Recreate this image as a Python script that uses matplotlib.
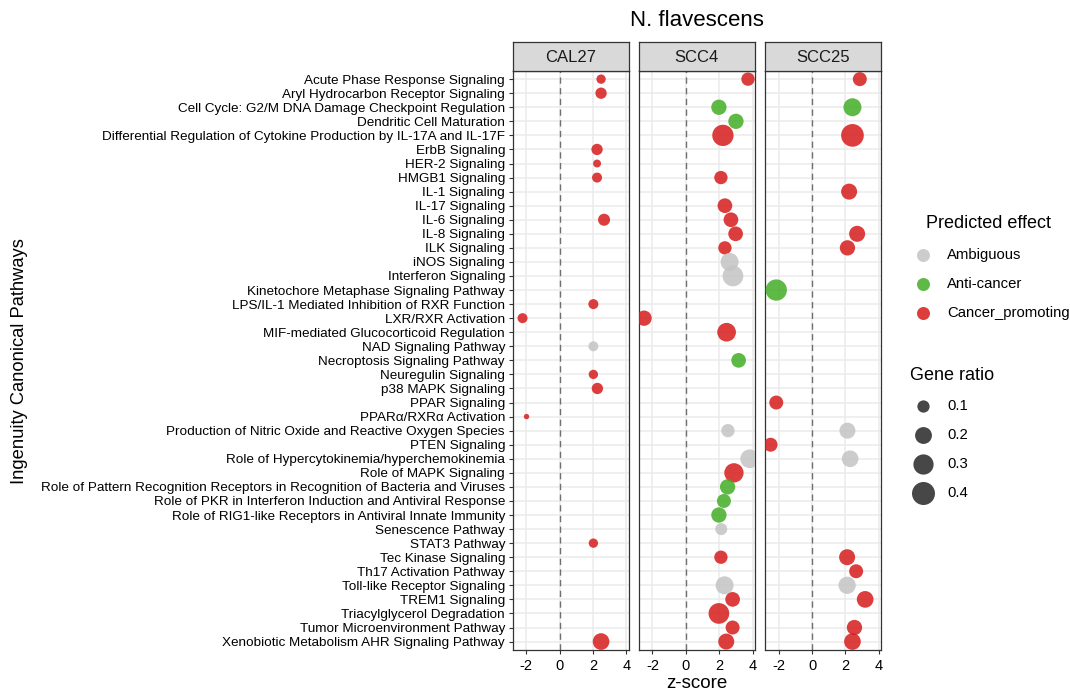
import numpy as np
import matplotlib
matplotlib.use("Agg")
import matplotlib.pyplot as plt

plt.rcParams["font.family"] = ["Liberation Sans", "DejaVu Sans"]
plt.rcParams["axes.unicode_minus"] = False

# ---- data -------------------------------------------------------------
pathways = [
    "Acute Phase Response Signaling",
    "Aryl Hydrocarbon Receptor Signaling",
    "Cell Cycle: G2/M DNA Damage Checkpoint Regulation",
    "Dendritic Cell Maturation",
    "Differential Regulation of Cytokine Production by IL-17A and IL-17F",
    "ErbB Signaling",
    "HER-2 Signaling",
    "HMGB1 Signaling",
    "IL-1 Signaling",
    "IL-17 Signaling",
    "IL-6 Signaling",
    "IL-8 Signaling",
    "ILK Signaling",
    "iNOS Signaling",
    "Interferon Signaling",
    "Kinetochore Metaphase Signaling Pathway",
    "LPS/IL-1 Mediated Inhibition of RXR Function",
    "LXR/RXR Activation",
    "MIF-mediated Glucocorticoid Regulation",
    "NAD Signaling Pathway",
    "Necroptosis Signaling Pathway",
    "Neuregulin Signaling",
    "p38 MAPK Signaling",
    "PPAR Signaling",
    "PPARα/RXRα Activation",
    "Production of Nitric Oxide and Reactive Oxygen Species",
    "PTEN Signaling",
    "Role of Hypercytokinemia/hyperchemokinemia",
    "Role of MAPK Signaling",
    "Role of Pattern Recognition Receptors in Recognition of Bacteria and Viruses",
    "Role of PKR in Interferon Induction and Antiviral Response",
    "Role of RIG1-like Receptors in Antiviral Innate Immunity",
    "Senescence Pathway",
    "STAT3 Pathway",
    "Tec Kinase Signaling",
    "Th17 Activation Pathway",
    "Toll-like Receptor Signaling",
    "TREM1 Signaling",
    "Triacylglycerol Degradation",
    "Tumor Microenvironment Pathway",
    "Xenobiotic Metabolism AHR Signaling Pathway",
]

cell_lines = ["CAL27", "SCC4", "SCC25"]

cal27_pathways = [
    "Acute Phase Response Signaling", "Aryl Hydrocarbon Receptor Signaling",
    "ErbB Signaling", "HER-2 Signaling", "HMGB1 Signaling", "IL-6 Signaling",
    "LPS/IL-1 Mediated Inhibition of RXR Function", "LXR/RXR Activation",
    "NAD Signaling Pathway", "Neuregulin Signaling", "p38 MAPK Signaling",
    "PPARα/RXRα Activation", "STAT3 Pathway",
    "Xenobiotic Metabolism AHR Signaling Pathway",
]
cal27_z = [2.48, 2.48, 2.24, 2.24, 2.24, 2.66, 2.02, -2.22, 2.02, 2.02, 2.26,
           -1.98, 2.02, 2.48]
cal27_ratio = [0.059, 0.085, 0.085, 0.046, 0.067, 0.096, 0.067, 0.067, 0.067,
               0.059, 0.085, 0.032, 0.059, 0.195]
cal27_effect = ["Cancer_promoting"] * 8 + ["Ambiguous"] + ["Cancer_promoting"] * 5

scc4_pathways = [
    "Acute Phase Response Signaling",
    "Cell Cycle: G2/M DNA Damage Checkpoint Regulation",
    "Dendritic Cell Maturation",
    "Differential Regulation of Cytokine Production by IL-17A and IL-17F",
    "HMGB1 Signaling", "IL-17 Signaling", "IL-6 Signaling", "IL-8 Signaling",
    "ILK Signaling", "iNOS Signaling", "Interferon Signaling",
    "LXR/RXR Activation", "MIF-mediated Glucocorticoid Regulation",
    "Necroptosis Signaling Pathway",
    "Production of Nitric Oxide and Reactive Oxygen Species",
    "Role of Hypercytokinemia/hyperchemokinemia", "Role of MAPK Signaling",
    "Role of Pattern Recognition Receptors in Recognition of Bacteria and Viruses",
    "Role of PKR in Interferon Induction and Antiviral Response",
    "Role of RIG1-like Receptors in Antiviral Innate Immunity",
    "Senescence Pathway", "Tec Kinase Signaling", "Toll-like Receptor Signaling",
    "TREM1 Signaling", "Triacylglycerol Degradation",
    "Tumor Microenvironment Pathway",
    "Xenobiotic Metabolism AHR Signaling Pathway",
]
scc4_z = [3.72, 1.98, 3.00, 2.22, 2.10, 2.34, 2.70, 2.98, 2.34, 2.62, 2.82,
          -2.50, 2.44, 3.16, 2.52, 3.82, 2.88, 2.50, 2.28, 1.98, 2.12, 2.10,
          2.32, 2.80, 1.98, 2.80, 2.42]
scc4_ratio = [0.119, 0.161, 0.161, 0.337, 0.119, 0.147, 0.147, 0.147, 0.119,
              0.231, 0.316, 0.161, 0.251, 0.147, 0.119, 0.251, 0.270, 0.161,
              0.132, 0.161, 0.096, 0.119, 0.231, 0.147, 0.316, 0.132, 0.178]
scc4_effect = [
    "Cancer_promoting", "Anti-cancer", "Anti-cancer", "Cancer_promoting",
    "Cancer_promoting", "Cancer_promoting", "Cancer_promoting",
    "Cancer_promoting", "Cancer_promoting", "Ambiguous", "Ambiguous",
    "Cancer_promoting", "Cancer_promoting", "Anti-cancer", "Ambiguous",
    "Ambiguous", "Cancer_promoting", "Anti-cancer", "Anti-cancer",
    "Anti-cancer", "Ambiguous", "Cancer_promoting", "Ambiguous",
    "Cancer_promoting", "Cancer_promoting", "Cancer_promoting",
    "Cancer_promoting",
]

scc25_pathways = [
    "Acute Phase Response Signaling",
    "Cell Cycle: G2/M DNA Damage Checkpoint Regulation",
    "Differential Regulation of Cytokine Production by IL-17A and IL-17F",
    "IL-1 Signaling", "IL-8 Signaling", "ILK Signaling",
    "Kinetochore Metaphase Signaling Pathway", "PPAR Signaling",
    "Production of Nitric Oxide and Reactive Oxygen Species", "PTEN Signaling",
    "Role of Hypercytokinemia/hyperchemokinemia", "Tec Kinase Signaling",
    "Th17 Activation Pathway", "Toll-like Receptor Signaling",
    "TREM1 Signaling", "Tumor Microenvironment Pathway",
    "Xenobiotic Metabolism AHR Signaling Pathway",
]
scc25_z = [2.86, 2.42, 2.42, 2.22, 2.70, 2.12, -2.14, -2.14, 2.12, -2.48,
           2.28, 2.10, 2.64, 2.10, 3.18, 2.54, 2.42]
scc25_ratio = [0.132, 0.231, 0.388, 0.178, 0.178, 0.161, 0.337, 0.132, 0.178,
               0.132, 0.195, 0.178, 0.132, 0.211, 0.195, 0.161, 0.195]
scc25_effect = [
    "Cancer_promoting", "Anti-cancer", "Cancer_promoting", "Cancer_promoting",
    "Cancer_promoting", "Cancer_promoting", "Anti-cancer", "Cancer_promoting",
    "Ambiguous", "Cancer_promoting", "Ambiguous", "Cancer_promoting",
    "Cancer_promoting", "Ambiguous", "Cancer_promoting", "Cancer_promoting",
    "Cancer_promoting",
]

effect_levels = ["Ambiguous", "Anti-cancer", "Cancer_promoting"]
effect_colors = {"Ambiguous": "#c4c4c4", "Anti-cancer": "#43ad25",
                 "Cancer_promoting": "#d61c1c"}
ratio_breaks = [0.1, 0.2, 0.3, 0.4]
x_ticks = [-2, 0, 2, 4]

# ---- styling ----------------------------------------------------------
W, H, DPI = 1070, 693, 100
PX = 72.0 / DPI  # points per pixel
ALPHA = 0.85
RATIO_MIN, RATIO_MAX = 0.03, 0.40


def marker_area(ratio):
    """Gene ratio -> scatter marker area (pt^2), area-type size scale."""
    r = np.clip((np.asarray(ratio, float) - RATIO_MIN) / (RATIO_MAX - RATIO_MIN), 0, None)
    diam_px = 4.0 + 19.0 * np.sqrt(r)
    return (diam_px * PX) ** 2


fig = plt.figure(figsize=(W / DPI, H / DPI), dpi=DPI)

panel_left = [512.5, 638.7, 764.9]
panel_w = 116.3
panel_top, panel_bot = 70.7, 650.0
strip_top = 42.3

grid_col = "#ebebeb"
border_col = "#333333"
row_index = {p: i for i, p in enumerate(pathways)}
n = len(pathways)

data = {
    "CAL27": (cal27_pathways, cal27_z, cal27_ratio, cal27_effect),
    "SCC4": (scc4_pathways, scc4_z, scc4_ratio, scc4_effect),
    "SCC25": (scc25_pathways, scc25_z, scc25_ratio, scc25_effect),
}

for k, cl in enumerate(cell_lines):
    x0 = panel_left[k] / W
    ax = fig.add_axes([x0, 1 - panel_bot / H, panel_w / W, (panel_bot - panel_top) / H])
    ax.set_facecolor("white")
    ax.set_xlim(-2.82, 4.14)
    ax.set_ylim(n - 1 + 0.6, -0.6)
    ax.set_xticks(x_ticks)
    ax.set_yticks(range(n))
    ax.set_axisbelow(True)
    ax.grid(True, color=grid_col, linewidth=1.1)
    ax.axvline(0, color="#6f6f6f", linestyle=(0, (4.5, 3.2)), linewidth=1.0, zorder=1.5)
    for s in ax.spines.values():
        s.set_color(border_col)
        s.set_linewidth(0.9)
    ax.tick_params(axis="y", color=border_col, length=3.2, width=0.8,
                   labelsize=9.7, labelcolor="black", pad=2.2)
    ax.tick_params(axis="x", color=border_col, length=3.2, width=0.8,
                   labelsize=10.5, labelcolor="black", pad=3.5)
    if k == 0:
        ax.set_yticklabels(pathways)
    else:
        ax.tick_params(axis="y", length=0, labelleft=False)

    names, zs, ratios, effects = data[cl]
    ys = [row_index[p] for p in names]
    cols = [effect_colors[e] for e in effects]
    ax.scatter(zs, ys, s=marker_area(ratios), c=cols, alpha=ALPHA,
               linewidths=0, zorder=3)

    # facet strip
    sax = fig.add_axes([x0, 1 - panel_top / H, panel_w / W, (panel_top - strip_top) / H])
    sax.set_facecolor("#d9d9d9")
    sax.set_xticks([])
    sax.set_yticks([])
    for s in sax.spines.values():
        s.set_color(border_col)
        s.set_linewidth(0.9)
    sax.text(0.5, 0.47, cl, ha="center", va="center", fontsize=12,
             color="#1a1a1a", transform=sax.transAxes)

# titles
fig.text(697 / W, 1 - 20 / H, "N. flavescens", ha="center", va="center", fontsize=16)
fig.text(697 / W, 1 - 683 / H, "z-score", ha="center", va="center", fontsize=13.5)
fig.text(20 / W, 1 - 361 / H, "Ingenuity Canonical Pathways", ha="center",
         va="center", rotation=90, fontsize=13.2)

# legends, drawn in a pixel-coordinate overlay
lax = fig.add_axes([0, 0, 1, 1])
lax.set_xlim(0, W)
lax.set_ylim(H, 0)
lax.axis("off")

lax.text(926, 224, "Predicted effect", ha="left", va="center", fontsize=13)
for i, e in enumerate(effect_levels):
    y = 255 + 29 * i
    lax.scatter([923], [y], s=(13 * PX) ** 2, color=effect_colors[e],
                alpha=ALPHA, linewidths=0)
    lax.text(947, y, e, ha="left", va="center", fontsize=10.7)

lax.text(910, 375, "Gene ratio", ha="left", va="center", fontsize=13)
for i, r in enumerate(ratio_breaks):
    y = 406 + 29 * i
    lax.scatter([923], [y], s=marker_area(r), color="black", alpha=0.72,
                linewidths=0)
    lax.text(947, y, f"{r:.1f}", ha="left", va="center", fontsize=10.7)

fig.savefig("out.png", dpi=DPI)
